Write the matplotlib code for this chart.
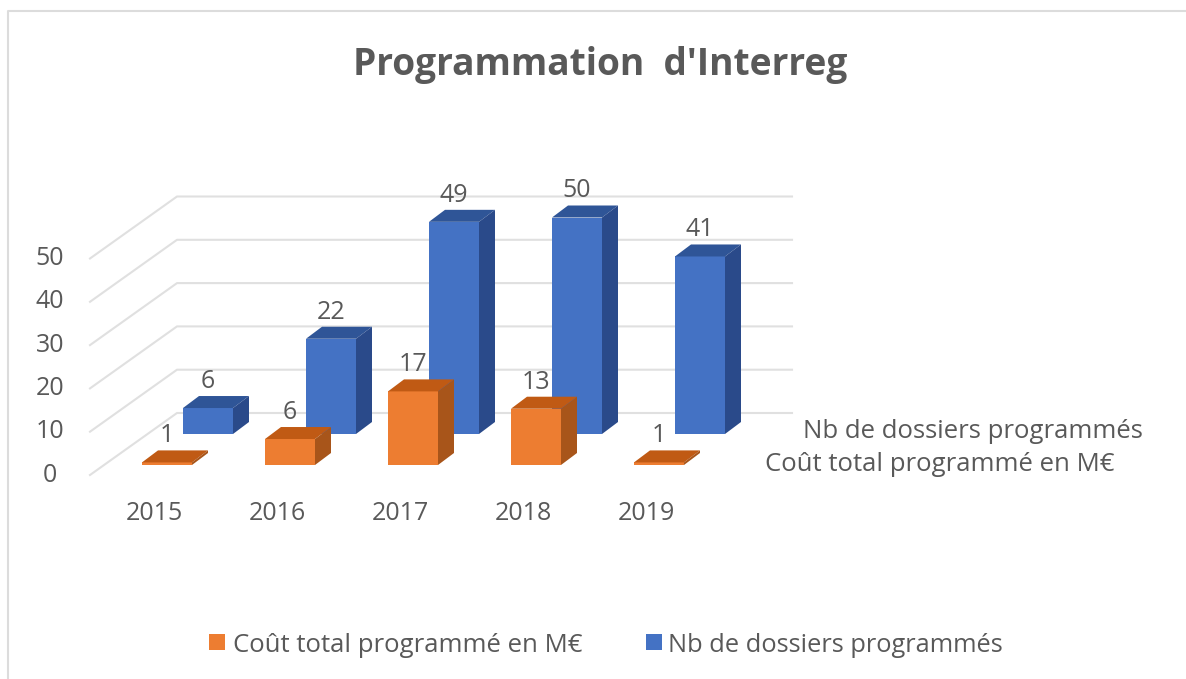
import matplotlib
matplotlib.use('Agg')

import matplotlib.pyplot as plt

from matplotlib.lines import Line2D
from matplotlib.patches import Polygon, Rectangle


# Donnees

annees = ['2015', '2016', '2017', '2018', '2019']

cout_total = [0.6, 6, 17, 13, 0.6]

nb_dossiers = [6, 22, 49, 50, 41]

graduations = [0, 10, 20, 30, 40, 50]

nom_cout = 'Coût total programmé en M€'

nom_dossiers = 'Nb de dossiers programmés'


# Style

plt.rcParams['font.family'] = ['Open Sans', 'DejaVu Sans']

GRIS_TEXTE = '#595959'

GRIS_GRILLE = '#e0e0e0'

ORANGE = ('#ed7d31', '#c05a14', '#a8551a')

BLEU = ('#4472c4', '#2f5597', '#2a4a8a')

TAILLE = 18


# Echelles : 1 categorie = 123 px, 1 unite = 4.33 px, origine en (167, 465)

W, H = 1186, 679

PX_CAT, PX_VAL = 123., 4.33

def dx(p):
    return p / PX_CAT

def dy(p):
    return p / PX_VAL

def fx(p):
    return p / W

def fy(p):
    return 1 - p / H


fig = plt.figure(figsize=(W/100, H/100), dpi=100)

ax = fig.add_axes([0, 0, 1, 1])

ax.set_xlim(dx(-167), dx(W-167))

ax.set_ylim(dy(465-H), dy(465))

ax.axis('off')


# Cadre de l'image

fig.add_artist(Line2D([fx(8), fx(8), fx(W)], [fy(H), fy(11), fy(11)], color='#dcdcdc', lw=1.5))


# Parois : lignes de grille

for g in graduations:

    base = dy(52) + g

    ax.plot([dx(90-167), dx(177-167), dx(792-167)], [base-dy(62), base, base], color=GRIS_GRILLE, lw=1.5, zorder=1)


# Barres en perspective

LARGEUR = dx(50)

DX, DY = dx(16), dy(12)

def barres3d(valeurs, decal_x, decal_y, couleurs, z):

    for i, v in enumerate(valeurs):

        x = i + decal_x

        g, d = x - LARGEUR/2, x + LARGEUR/2

        haut = decal_y + v

        ax.bar(x, v, width=LARGEUR, bottom=decal_y, color=couleurs[0], zorder=z)

        ax.add_patch(Polygon([(g, haut), (d, haut), (d+DX, haut+DY), (g+DX, haut+DY)], facecolor=couleurs[1], zorder=z))

        ax.add_patch(Polygon([(d, decal_y), (d+DX, decal_y+DY), (d+DX, haut+DY), (d, haut)], facecolor=couleurs[2], zorder=z))

        ax.annotate('{:.0f}'.format(v), (x, haut+DY), xytext=(0, 10.5), textcoords='offset points',
                    ha='center', va='center', fontsize=TAILLE, color=GRIS_TEXTE, zorder=10)


barres3d(nb_dossiers, dx(41), dy(31), BLEU, 3)

barres3d(cout_total, 0, 0, ORANGE, 4)


# Axes : textes

for i, a in enumerate(annees):

    ax.text(i - dx(13), dy(465-513), a, ha='center', va='center', fontsize=TAILLE, color=GRIS_TEXTE)

for g in graduations:

    ax.text(dx(50-167), dy(465-475) + g, str(g), ha='center', va='center', fontsize=TAILLE, color=GRIS_TEXTE)

ax.text(dx(803-167), dy(465-431), nom_dossiers, ha='left', va='center', fontsize=18.5, color=GRIS_TEXTE)

ax.text(dx(765-167), dy(465-464), nom_cout, ha='left', va='center', fontsize=18.5, color=GRIS_TEXTE)


# Titre et legende

fig.text(fx(600), fy(65), "Programmation  d'Interreg", ha='center', va='center', fontsize=26.7, fontweight='bold', color=GRIS_TEXTE)

fig.add_artist(Rectangle((fx(209), fy(650)), 16/W, 16/H, transform=fig.transFigure, facecolor=ORANGE[0]))

fig.add_artist(Rectangle((fx(646), fy(650)), 16/W, 16/H, transform=fig.transFigure, facecolor=BLEU[0]))

fig.text(fx(233), fy(645), nom_cout, ha='left', va='center', fontsize=18.5, color=GRIS_TEXTE)

fig.text(fx(668), fy(645), nom_dossiers, ha='left', va='center', fontsize=18.3, color=GRIS_TEXTE)


fig.savefig('out.png', dpi=100)
